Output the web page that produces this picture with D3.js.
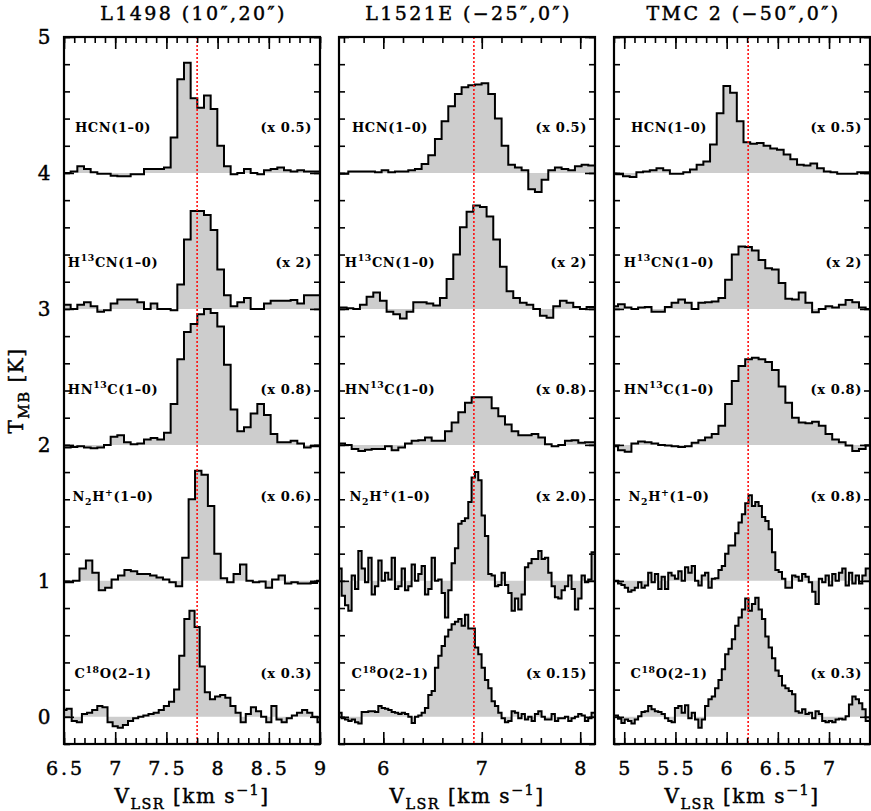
<!DOCTYPE html>
<html><head><meta charset="utf-8">
<script src="https://cdn.jsdelivr.net/npm/d3@7/dist/d3.min.js"></script>
<style>body{margin:0;background:#fff} text{font-family:"DejaVu Serif",serif;fill:#000} .heavy{stroke:#000;stroke-width:0.45px}</style>
</head><body><svg id="c" width="871" height="811"></svg>
<script>
// ---------------- data ----------------
const panelTitles = ["L1498 (10\u2033,20\u2033)", "L1521E (\u221225\u2033,0\u2033)", "TMC 2 (\u221250\u2033,0\u2033)"];
const xDomains = [[6.5, 9], [5.55, 8.15], [4.9, 7.4]];
const xMajorTicks = [[6.5, 7, 7.5, 8, 8.5, 9], [6, 7, 8], [5, 5.5, 6, 6.5, 7]];
const xMinorStep = [0.1, 0.2, 0.1];
const vSystemic = [7.8, 6.92, 6.21];
const yTickLabels = [0, 1, 2, 3, 4, 5];
const lineNames = ["HCN(1\u20130)", "H^{13}CN(1\u20130)", "HN^{13}C(1\u20130)", "N_{2}H^{+}(1\u20130)", "C^{18}O(2\u20131)"];
const offsets = [4, 3, 2, 1, 0];
const scaleLabels = [
  ["(x 0.5)", "(x 2)", "(x 0.8)", "(x 0.6)", "(x 0.3)"],
  ["(x 0.5)", "(x 2)", "(x 0.8)", "(x 2.0)", "(x 0.15)"],
  ["(x 0.5)", "(x 2)", "(x 0.8)", "(x 0.8)", "(x 0.3)"]
];
// channel grids: [first channel left edge (km/s), channel width (km/s)]
const grids = [
  [[6.5, 0.0651], [6.5, 0.0651], [6.5, 0.0651], [6.463, 0.0627], [6.475, 0.05]],
  [[5.509, 0.0677], [5.492, 0.0677], [5.4755, 0.0677], [5.543, 0.03384], [5.543, 0.03384]],
  [[4.8575, 0.06536], [4.874, 0.06536], [4.874, 0.06536], [4.874, 0.03268], [4.874, 0.03268]]
];
// L1498 spectra (scaled T_MB, K, relative to baseline)
const l1498_hcn = [0.0,0.01,0.05,0.03,0.005,-0.005,-0.005,-0.02,-0.025,-0.025,-0.01,-0.01,0.03,0.03,0.03,0.04,0.26,0.69,0.81,0.55,0.48,0.57,0.47,0.20,0.05,-0.01,0.0,0.03,0.0,-0.01,0.02,0.03,0.04,0.02,0.01,0.02,0.01,0.01,0.01];
const l1498_h13cn = [0.03,0.0,0.03,0.05,0.02,-0.02,-0.01,0.04,0.07,0.07,0.07,0.05,0.0,0.04,0.0,0.0,-0.01,0.18,0.51,0.72,0.72,0.69,0.58,0.29,0.10,0.02,0.05,0.08,0.0,0.0,0.04,0.06,0.06,0.06,0.065,0.04,0.1,0.1,0.1];
const l1498_hn13c = [-0.02,-0.015,-0.01,-0.02,-0.025,-0.02,0.0,0.06,0.07,0.02,0.005,0.01,0.04,0.05,0.04,0.09,0.30,0.63,0.83,0.89,0.96,1.0,0.97,0.87,0.59,0.26,0.10,0.13,0.23,0.30,0.22,0.08,0.02,0.02,0.03,0.01,-0.02,-0.01,-0.01];
const l1498_n2hp = [-0.01,-0.01,0.0,0.09,0.15,0.06,-0.07,-0.05,0.01,0.04,0.08,0.07,0.05,0.05,0.04,0.025,0.01,-0.01,-0.04,0.17,0.60,0.81,0.78,0.55,0.20,0.02,-0.01,0.05,0.12,0.0,-0.01,-0.005,-0.05,0.01,0.04,-0.02,-0.01,-0.02,-0.02,-0.015,0.0];
const l1498_c18o = [0.05,0.06,-0.03,-0.04,0.02,0.03,0.05,0.08,0.07,-0.04,-0.07,-0.08,-0.06,-0.03,-0.01,0.0,0.01,0.02,0.03,0.05,0.08,0.11,0.20,0.45,0.72,0.78,0.66,0.37,0.18,0.13,0.15,0.16,0.14,0.08,0.03,-0.04,0.02,0.07,0.04,0.0,-0.04,0.08,-0.02,-0.04,-0.01,0.01,0.03,0.05,0.03,0.0,-0.04];
// L1521E spectra
const l1521e_hcn = [-0.005,-0.005,0.01,0.01,0.01,0.01,0.005,0.02,0.005,0.01,0.01,0.02,0.03,0.065,0.13,0.25,0.38,0.49,0.58,0.63,0.645,0.65,0.66,0.58,0.40,0.20,0.06,0.04,0.02,-0.12,-0.14,-0.05,0.02,0.04,0.03,0.02,0.05,0.06,0.055,0.055];
const l1521e_h13cn = [0.01,0.01,0.005,0.0,0.03,0.09,0.12,0.06,-0.02,-0.04,-0.07,-0.02,0.05,0.05,0.04,0.025,0.08,0.22,0.40,0.60,0.715,0.76,0.75,0.68,0.51,0.31,0.13,0.08,0.045,0.03,0.0,-0.05,-0.065,0.02,0.06,0.045,0.015,0.0,0.015,0.015];
const l1521e_hn13c = [0.01,0.01,0.0,-0.03,-0.045,-0.035,-0.03,-0.03,-0.01,-0.04,-0.02,0.01,0.03,0.035,0.055,0.03,0.03,0.10,0.165,0.24,0.31,0.35,0.35,0.35,0.27,0.21,0.15,0.10,0.07,0.07,0.08,0.055,0.005,-0.01,0.0,0.03,0.035,0.015,0.02,0.02];
const l1521e_n2hp = [0.09,-0.11,-0.18,-0.22,0.04,-0.06,0.22,0.09,-0.01,0.17,-0.10,-0.04,0.15,0.0,0.06,0.01,0.17,-0.06,-0.04,0.09,-0.07,-0.04,0.12,0.0,0.05,0.11,-0.10,-0.06,0.17,0.0,0.01,-0.09,-0.27,-0.07,0.13,0.24,0.42,0.44,0.46,0.58,0.76,0.80,0.74,0.48,0.33,0.05,0.04,-0.04,-0.03,0.06,-0.03,-0.09,-0.22,-0.13,-0.21,-0.10,0.10,0.13,0.16,0.16,0.22,0.16,0.17,0.06,-0.04,-0.12,-0.13,-0.07,-0.04,0.04,-0.06,-0.21,-0.13,0.04,-0.01,0.01,0.21];
const l1521e_c18o = [0.03,-0.01,-0.02,-0.03,-0.02,-0.04,-0.05,0.035,0.035,0.04,0.04,0.035,0.08,0.065,0.06,0.05,0.035,0.03,0.02,0.03,0.02,0.0,-0.045,0.0,0.01,0.03,0.065,0.16,0.19,0.36,0.45,0.52,0.59,0.64,0.68,0.70,0.72,0.67,0.75,0.65,0.65,0.51,0.46,0.36,0.27,0.21,0.115,0.08,0.03,-0.01,-0.04,-0.03,0.04,0.03,-0.01,0.02,-0.02,0.0,-0.03,0.02,0.04,0.0,-0.02,-0.02,0.02,-0.03,-0.01,-0.01,0.0,-0.03,-0.01,0.0,0.02,0.01,-0.03,-0.01,0.03];
// TMC 2 spectra
const tmc2_hcn = [-0.005,-0.01,-0.025,-0.03,0.005,0.01,0.02,0.035,0.02,-0.005,-0.005,0.005,0.025,0.06,0.085,0.21,0.44,0.64,0.59,0.38,0.225,0.215,0.22,0.20,0.18,0.17,0.135,0.10,0.06,0.055,0.07,0.035,0.01,0.005,-0.005,-0.005,-0.005,0.005,0.005];
const tmc2_h13cn = [0.02,0.035,0.01,0.0,0.01,0.015,-0.02,-0.02,0.015,0.045,0.07,0.045,0.0,0.045,0.05,0.055,0.08,0.215,0.40,0.46,0.455,0.43,0.36,0.30,0.29,0.19,0.075,0.07,0.12,0.045,-0.025,0.0,0.02,0.01,0.03,0.065,0.05,0.01,0.0];
const tmc2_hn13c = [-0.01,-0.04,-0.05,0.01,0.025,0.02,0.01,0.0,-0.005,-0.01,-0.015,-0.01,0.015,0.035,0.055,0.08,0.14,0.30,0.47,0.58,0.63,0.64,0.63,0.61,0.55,0.43,0.31,0.20,0.165,0.16,0.17,0.14,0.08,0.04,0.02,-0.005,-0.045,-0.03,-0.005];
const tmc2_n2hp = [0.0,0.0,-0.02,-0.03,-0.05,-0.08,-0.07,-0.05,-0.01,-0.05,-0.035,0.06,-0.01,0.05,-0.06,0.03,-0.06,0.06,0.04,0.015,0.07,0.0,0.10,0.06,0.11,0.0,-0.035,0.04,0.06,-0.05,0.015,0.02,0.08,0.11,0.2,0.26,0.26,0.35,0.43,0.49,0.57,0.63,0.55,0.58,0.55,0.47,0.44,0.38,0.21,0.08,0.065,0.015,-0.05,-0.05,0.04,0.03,0.0,0.05,0.03,-0.01,-0.08,-0.17,0.015,-0.01,0.04,-0.035,0.05,0.0,0.06,0.09,-0.035,0.06,-0.02,0.04,-0.02,0.04,0.09,0.09];
const tmc2_c18o = [0.01,0.01,-0.015,-0.045,-0.02,-0.03,-0.05,-0.02,0.005,0.035,0.04,0.08,0.055,0.04,0.035,0.02,-0.01,-0.03,-0.04,0.065,0.08,0.03,0.085,-0.01,0.03,-0.02,-0.08,-0.02,0.08,0.13,0.15,0.21,0.27,0.35,0.46,0.50,0.57,0.67,0.73,0.79,0.87,0.78,0.83,0.875,0.79,0.72,0.59,0.51,0.43,0.34,0.30,0.23,0.21,0.19,0.165,0.04,0.03,0.055,0.02,0.03,-0.01,0.04,0.02,-0.03,-0.04,-0.03,-0.04,-0.02,-0.015,-0.02,0.005,0.09,0.15,0.13,0.10,0.055,-0.03,-0.03];

const spectra = [
  [l1498_hcn, l1498_h13cn, l1498_hn13c, l1498_n2hp, l1498_c18o],
  [l1521e_hcn, l1521e_h13cn, l1521e_hn13c, l1521e_n2hp, l1521e_c18o],
  [tmc2_hcn, tmc2_h13cn, tmc2_hn13c, tmc2_n2hp, tmc2_c18o]
];

// ---------------- layout ----------------
const svg = d3.select("#c");
const panelLeft = [64, 339, 614], pw = 256, pTop = 37, pBottom = 744;
const labelCx = [113, 390, 669];
const labelY = [4.30, 3.31, 2.375, 1.586, 0.285];
const y = d3.scaleLinear().domain([-0.2, 5]).range([pBottom, pTop]);

function rich(sel, str, fs) {
  const re = /(\^\{[^}]*\}|_\{[^}]*\}|[^\^_]+)/g;
  let m, shift = 0;
  while ((m = re.exec(str)) !== null) {
    const tok = m[0];
    let txt = tok, target = 0, size = fs;
    if (tok.startsWith("^{")) { txt = tok.slice(2, -1); target = -0.42 * fs; size = fs * 0.72; }
    else if (tok.startsWith("_{")) { txt = tok.slice(2, -1); target = 0.3 * fs; size = fs * 0.72; }
    sel.append("tspan").attr("dy", target - shift).attr("font-size", size).text(txt);
    shift = target;
  }
}

panelTitles.forEach((title, pi) => {
  const x0 = panelLeft[pi], x1 = x0 + pw;
  const x = d3.scaleLinear().domain(xDomains[pi]).range([x0, x1]);
  const g = svg.append("g");
  const clipId = "clip" + pi;
  svg.append("clipPath").attr("id", clipId).append("rect")
    .attr("x", x0).attr("y", pTop).attr("width", pw).attr("height", pBottom - pTop);
  const gc = g.append("g").attr("clip-path", `url(#${clipId})`);

  spectra[pi].forEach((vals, si) => {
    const [v0, dv] = grids[pi][si];
    const base = offsets[si];
    const pts = [];
    vals.forEach((t, i) => { pts.push([v0 + i * dv, t]); pts.push([v0 + (i + 1) * dv, t]); });
    gc.append("path").datum(pts)
      .attr("d", d3.area().x(d => x(d[0])).y0(y(base)).y1(d => y(base + d[1])))
      .attr("fill", "#cdcdcd").attr("stroke", "none");
    gc.append("path").datum(pts)
      .attr("d", d3.line().x(d => x(d[0])).y(d => y(base + d[1])))
      .attr("fill", "none").attr("stroke", "#000").attr("stroke-width", 2)
      .attr("stroke-linejoin", "miter");
  });

  // systemic velocity line
  g.append("line").attr("x1", x(vSystemic[pi])).attr("x2", x(vSystemic[pi]))
    .attr("y1", pTop).attr("y2", pBottom)
    .attr("stroke", "#ff0000").attr("stroke-width", 1.5).attr("stroke-dasharray", "2,2");

  // axes ticks
  const [d0, d1] = xDomains[pi];
  const step = xMinorStep[pi];
  const minor = d3.range(Math.ceil(d0 / step - 1e-6), Math.floor(d1 / step + 1e-6) + 1).map(k => +(k * step).toFixed(3));
  const yMinor = d3.range(-1, 26).map(k => +(k * 0.2).toFixed(2));
  const style = s => { s.select(".domain").remove(); s.selectAll("line").attr("stroke", "#000").attr("stroke-width", 1.6); };
  g.append("g").attr("transform", `translate(0,${pBottom})`).call(d3.axisBottom(x).tickValues(minor).tickSize(-6).tickFormat("")).call(style);
  g.append("g").attr("transform", `translate(0,${pTop})`).call(d3.axisTop(x).tickValues(minor).tickSize(-6).tickFormat("")).call(style);
  g.append("g").attr("transform", `translate(0,${pBottom})`).call(d3.axisBottom(x).tickValues(xMajorTicks[pi]).tickSize(-12).tickFormat("")).call(style);
  g.append("g").attr("transform", `translate(0,${pTop})`).call(d3.axisTop(x).tickValues(xMajorTicks[pi]).tickSize(-12).tickFormat("")).call(style);
  g.append("g").attr("transform", `translate(${x0},0)`).call(d3.axisLeft(y).tickValues(yMinor).tickSize(-6).tickFormat("")).call(style);
  g.append("g").attr("transform", `translate(${x1},0)`).call(d3.axisRight(y).tickValues(yMinor).tickSize(-6).tickFormat("")).call(style);
  g.append("g").attr("transform", `translate(${x0},0)`).call(d3.axisLeft(y).tickValues(yTickLabels).tickSize(-10).tickFormat("")).call(style);
  g.append("g").attr("transform", `translate(${x1},0)`).call(d3.axisRight(y).tickValues(yTickLabels).tickSize(-10).tickFormat("")).call(style);

  // frame
  g.append("rect").attr("x", x0).attr("y", pTop).attr("width", pw).attr("height", pBottom - pTop)
    .attr("fill", "none").attr("stroke", "#000").attr("stroke-width", 2.2);

  // x tick labels
  g.selectAll(".xl").data(xMajorTicks[pi]).enter().append("text").attr("class", "heavy")
    .attr("x", d => x(d) + 1.5).attr("y", 775).attr("text-anchor", "middle")
    .attr("font-size", 19).attr("letter-spacing", 3).text(d => d);

  // title
  g.append("text").attr("class", "heavy").attr("x", (x0 + x1) / 2 + 1.5).attr("y", 20).attr("text-anchor", "middle")
    .attr("font-size", 19).attr("letter-spacing", 2.4).text(title);

  // x axis title
  const xt = g.append("text").attr("class", "heavy").attr("x", (x0 + x1) / 2).attr("y", 803).attr("text-anchor", "middle")
    .attr("font-size", 20).attr("letter-spacing", 1.5);
  rich(xt, "V_{LSR} [km s^{\u22121}]", 20);

  // line labels
  lineNames.forEach((nm, si) => {
    const t = g.append("text").attr("x", labelCx[pi]).attr("y", y(labelY[si])).attr("text-anchor", "middle")
      .attr("font-size", 13).attr("font-weight", "bold").attr("letter-spacing", 0.6);
    rich(t, nm, 13);
    g.append("text").attr("x", x1 - 8).attr("y", y(labelY[si])).attr("text-anchor", "end")
      .attr("font-size", 13).attr("font-weight", "bold").attr("letter-spacing", 0.6).text(scaleLabels[pi][si]);
  });
});

// y tick labels
svg.selectAll(".yl").data(yTickLabels).enter().append("text").attr("class", "heavy")
  .attr("x", 44).attr("y", d => y(d) + 7).attr("text-anchor", "middle")
  .attr("font-size", 20).text(d => d);

// y axis title
const yt = svg.append("text").attr("class", "heavy").attr("transform", `translate(23,${(pTop + pBottom) / 2}) rotate(-90)`)
  .attr("text-anchor", "middle").attr("font-size", 20).attr("letter-spacing", 1.5);
rich(yt, "T_{MB} [K]", 20);
</script></body></html>
